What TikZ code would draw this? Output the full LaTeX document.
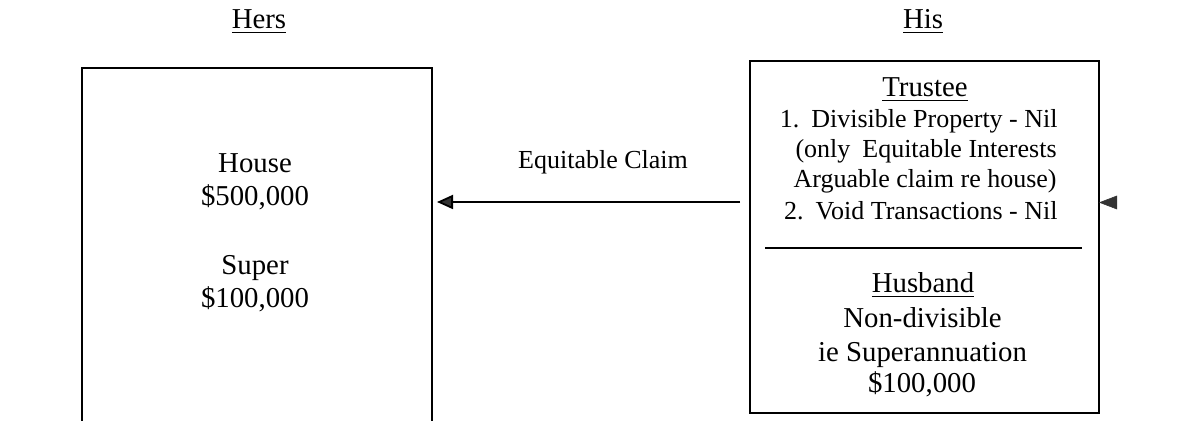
\documentclass[tikz,border=0pt]{standalone}
\usepackage{fontspec}
\setmainfont{Liberation Serif}
\usetikzlibrary{arrows.meta}
\tikzset{
  txt/.style={anchor=base, inner sep=0pt, font=\fontsize{14.4pt}{17pt}\selectfont},
  smalltxt/.style={txt, font=\fontsize{13pt}{15pt}\selectfont},
  boxline/.style={line width=0.8pt, black},
  claim/.style={line width=0.9pt, -{Triangle[length=8pt,width=7pt,fill=black!80]}},
  head/.style={fill=black!80, draw=black!80, line width=0.3pt}
}
\begin{document}
\begin{tikzpicture}[x=0.5pt,y=-0.5pt]
\useasboundingbox (0,0) rectangle (1200,421);
% headers
\node[txt] (hers) at (259,29) {\underline{Hers}};
\node[txt] (his) at (923,29) {\underline{His}};
% left box (open at the bottom)
\draw[boxline] (82,425) -- (82,68) -- (432,68) -- (432,425);
\coordinate (herside) at (437,202);
\node[txt] (house) at (255,173) {House};
\node[txt] (houseval) at (255,206) {\$500,000};
\node[txt] (super) at (255,275) {Super};
\node[txt] (superval) at (255,308) {\$100,000};
% arrow
\coordinate (claimstart) at (740,202);
\draw[claim] (claimstart) -- (herside);
\node[smalltxt] (claimlbl) at (603,169) {Equitable Claim};
% right box
\node[draw, boxline, minimum width=174.5pt, minimum height=176pt, inner sep=0pt] (hisbox) at (924.5,237) {};
\draw[boxline] (765,248) -- (1082,248);
\node[txt] (trustee) at (925,97) {\underline{Trustee}};
\node[smalltxt, anchor=base east] (l1) at (1058,128) {1.\hspace{6pt}Divisible Property - Nil};
\node[smalltxt, anchor=base east] (l2) at (1057,158) {(only\hspace{6pt}Equitable Interests};
\node[smalltxt, anchor=base east] (l3) at (1057,188) {Arguable claim re house)};
\node[smalltxt, anchor=base east] (l4) at (1058,220) {2.\hspace{6pt}Void Transactions - Nil};
\node[txt] (husband) at (923,293) {\underline{Husband}};
\node[txt] (nondiv) at (922.5,328) {Non-divisible};
\node[txt] (superann) at (922.5,362) {ie Superannuation};
\node[txt] (hisval) at (922,393) {\$100,000};
% small arrowhead on right side of his box
\fill[head] (hisbox.east |- 0,202.5) -- ++(17,-6.5) -- ++(0,13) -- cycle;
\end{tikzpicture}
\end{document}
